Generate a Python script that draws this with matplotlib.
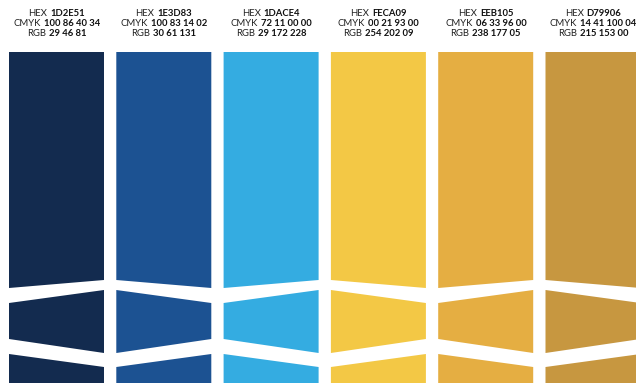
import matplotlib.pyplot as plt
from matplotlib.patches import Polygon
from matplotlib.offsetbox import TextArea, HPacker, AnnotationBbox

# palette data
hex_codes = ['1D2E51', '1E3D83', '1DACE4', 'FECA09', 'EEB105', 'D79906']
cmyk_codes = ['100 86 40 34', '100 83 14 02', '72 11 00 00',
              '00 21 93 00', '06 33 96 00', '14 41 100 04']
rgb_codes = ['29 46 81', '30 61 131', '29 172 228',
             '254 202 09', '238 177 05', '215 153 00']
# colours as they appear in the rendered swatches
swatch_colors = ['#132B4F', '#1C5292', '#34ACE1', '#F3C845', '#E5AE42', '#C79740']

W, H = 636, 383
fig = plt.figure(figsize=(W / 100, H / 100), dpi=100)
ax = fig.add_axes([0, 0, 1, 1])
ax.set_xlim(0, W)
ax.set_ylim(H, 0)
ax.axis('off')

x_start, pitch, col_w = 9, 107.3, 95
top = 52
# (left y, right y) for each edge of the segments, "left" column type
edges = [(288, 280), (303, 290), (339, 353), (354, 367)]

font = 'Lato'
fs = 6.8


def label(x, y, key, value):
    a = TextArea(key, textprops=dict(fontsize=fs, family=font, color='#222222'))
    b = TextArea(value, textprops=dict(fontsize=fs, family=font, weight='bold', color='#111111'))
    box = HPacker(children=[a, b], align='baseline', pad=0, sep=2.2)
    ab = AnnotationBbox(box, (x, y), xycoords='data', frameon=False,
                        box_alignment=(0.5, 0.5), pad=0)
    ax.add_artist(ab)


for i, c in enumerate(swatch_colors):
    x0 = x_start + i * pitch
    x1 = x0 + col_w
    e = edges if i % 2 == 0 else [(r, l) for l, r in edges]
    segs = [
        [(x0, top), (x1, top), (x1, e[0][1]), (x0, e[0][0])],
        [(x0, e[1][0]), (x1, e[1][1]), (x1, e[2][1]), (x0, e[2][0])],
        [(x0, e[3][0]), (x1, e[3][1]), (x1, H + 5), (x0, H + 5)],
    ]
    for s in segs:
        ax.add_patch(Polygon(s, closed=True, facecolor=c, edgecolor='none'))
    cx = x0 + col_w / 2
    label(cx, 14, 'HEX', hex_codes[i])
    label(cx, 24, 'CMYK', cmyk_codes[i])
    label(cx, 34, 'RGB', rgb_codes[i])

fig.savefig('out.png', dpi=100)
